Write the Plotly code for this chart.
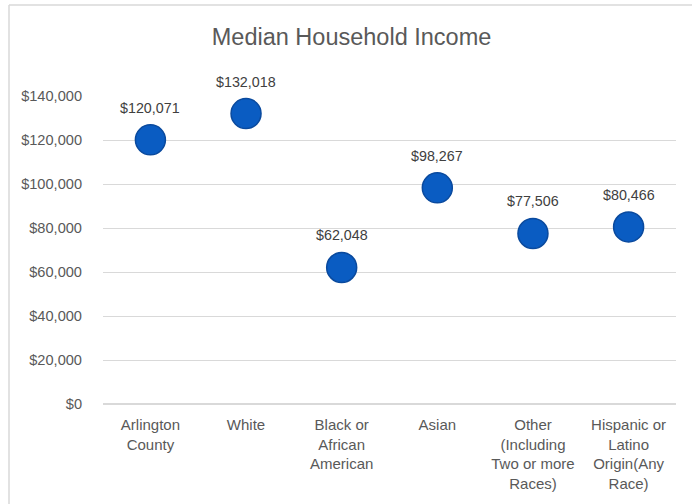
import plotly.graph_objects as go

categories = ["Arlington<br>County", "White", "Black or<br>African<br>American", "Asian",
              "Other<br>(Including<br>Two or more<br>Races)", "Hispanic or<br>Latino<br>Origin(Any<br>Race)"]
income = [120071, 132018, 62048, 98267, 77506, 80466]
y_ticks = [0, 20000, 40000, 60000, 80000, 100000, 120000, 140000]
y_tick_labels = ["$" + format(v, ",") for v in y_ticks]
value_labels = ["$" + format(v, ",") for v in income]

FONT = "Liberation Sans"
GREY = "#595959"

L, R, T, B = 103, 16, 96, 100
PW, PH = 692 - L - R, 504 - T - B

fig = go.Figure(go.Scatter(
    x=categories, y=income, mode="markers",
    marker=dict(size=30, color="#0A5CC2", line=dict(color="#0A4A9E", width=1.5)),
    cliponaxis=False, hoverinfo="skip"))

for c, v, t in zip(categories, income, value_labels):
    fig.add_annotation(x=c, y=v, text=t, showarrow=False, yshift=32,
                       font=dict(family=FONT, size=14.3, color="#404040"))

fig.update_layout(
    width=692, height=504,
    margin=dict(l=L, r=R, t=T, b=B),
    paper_bgcolor="white", plot_bgcolor="white",
    showlegend=False,
    title=dict(text="Median Household Income", x=0.508, xanchor="center",
               y=1 - 37 / 504, yanchor="middle",
               font=dict(family=FONT, size=23.5, color=GREY)),
    xaxis=dict(type="category", showgrid=False, showline=False, ticks="",
               tickfont=dict(family=FONT, size=15, color=GREY),
               ticklabelstandoff=10),
    yaxis=dict(range=[0, 140000], tickvals=y_ticks, ticktext=y_tick_labels,
               showgrid=True, gridcolor="#D9D9D9", gridwidth=1,
               zeroline=True, zerolinecolor="#D9D9D9", showline=False, ticks="",
               tickfont=dict(family=FONT, size=14.6, color=GREY),
               ticklabelstandoff=20),
    shapes=[
        dict(type="line", xref="paper", yref="paper", x0=(9 - L) / PW, x1=1.2,
             y0=1 + (T - 5) / PH, y1=1 + (T - 5) / PH,
             line=dict(color="#D9D9D9", width=1.5)),
        dict(type="line", xref="paper", yref="paper", x0=(9 - L) / PW, x1=(9 - L) / PW,
             y0=-0.5, y1=1 + (T - 5) / PH,
             line=dict(color="#D9D9D9", width=1.5)),
    ],
)

fig.write_html("out.html", config={"displayModeBar": False},
               post_script="document.body.style.margin='0';")
